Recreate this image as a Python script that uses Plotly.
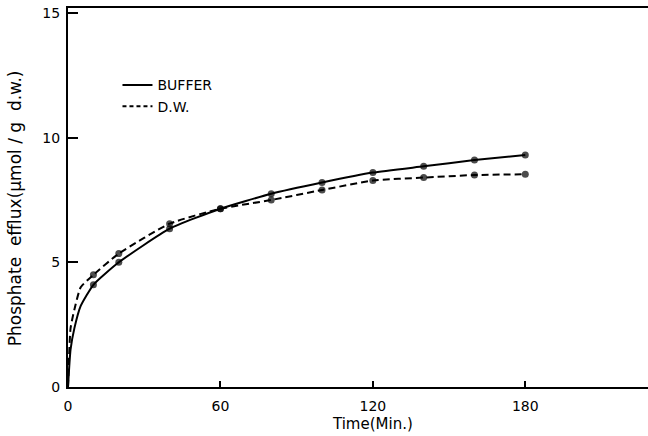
import plotly.graph_objects as go

# time (min) and efflux (umol/g d.w.);
# early points (1, 2.5, 5 min) describe the curve, drawn without markers
time_min = [0, 1, 2.5, 5, 10, 20, 40, 60, 80, 100, 120, 140, 160, 180]
buffer_vals = [0.0, 1.5, 2.35, 3.25, 4.1, 5.0, 6.35, 7.15, 7.75, 8.2, 8.6, 8.85, 9.1, 9.3]
dw_vals = [0.0, 2.35, 3.1, 4.0, 4.5, 5.35, 6.55, 7.15, 7.5, 7.9, 8.28, 8.4, 8.5, 8.53]
marked = [False, False, False, False, True, True, True, True, True, True, True, True, True, True]

x_ticks = [0, 60, 120, 180]
y_ticks = [0, 5, 10, 15]

FONT = "DejaVu Sans"

fig = go.Figure()

marker_sizes = [7 if m else 0 for m in marked]
fig.add_trace(go.Scatter(x=time_min, y=buffer_vals, mode="lines+markers",
                         line=dict(color="black", width=2, shape="spline", smoothing=0.5),
                         marker=dict(color="black", size=marker_sizes, line=dict(width=0)),
                         showlegend=False, name="BUFFER"))
fig.add_trace(go.Scatter(x=time_min, y=dw_vals, mode="lines+markers",
                         line=dict(color="black", width=2, dash="7px,4px", shape="spline", smoothing=0.5),
                         marker=dict(color="black", size=marker_sizes, line=dict(width=0)),
                         showlegend=False, name="D.W."))
# legend-only entries
fig.add_trace(go.Scatter(x=[None], y=[None], mode="lines", name="BUFFER",
                         line=dict(color="black", width=2)))
fig.add_trace(go.Scatter(x=[None], y=[None], mode="lines", name="D.W.",
                         line=dict(color="black", width=2, dash="4px,3px")))

fig.update_layout(
    width=648, height=436,
    margin=dict(l=68, r=0, t=8, b=49),
    paper_bgcolor="white", plot_bgcolor="white",
    font=dict(family=FONT, color="black", size=14),
    legend=dict(x=0.0853, y=0.838, xanchor="left", yanchor="top",
                bgcolor="rgba(0,0,0,0)", font=dict(size=14, family=FONT),
                itemwidth=30, tracegroupgap=0),
    xaxis=dict(range=[0, 228.3], tickvals=x_ticks, ticks="inside", ticklen=6,
               tickwidth=2, tickcolor="black", showline=True, linecolor="black",
               linewidth=2, mirror=True, showgrid=False, zeroline=False,
               ticklabelstandoff=5, tickfont=dict(size=14, family=FONT)),
    yaxis=dict(range=[0, 15.2], tickvals=y_ticks, ticks="inside", ticklen=10,
               tickwidth=2, tickcolor="black", showline=True, linecolor="black",
               linewidth=2, showgrid=False, zeroline=False,
               ticklabelstandoff=3, tickfont=dict(size=14, family=FONT)),
    annotations=[
        dict(text="Time(Min.)", x=120, y=-0.068, xref="x", yref="paper",
             xanchor="center", yanchor="top", showarrow=False,
             font=dict(size=15, family=FONT)),
        dict(text="Phosphate  efflux(\u00b5mol / g  d.w.)", x=-0.09, y=0.471,
             xref="paper", yref="paper", textangle=-90, showarrow=False,
             xanchor="center", yanchor="middle", font=dict(size=17, family=FONT)),
    ],
)

fig.write_html("out.html")
